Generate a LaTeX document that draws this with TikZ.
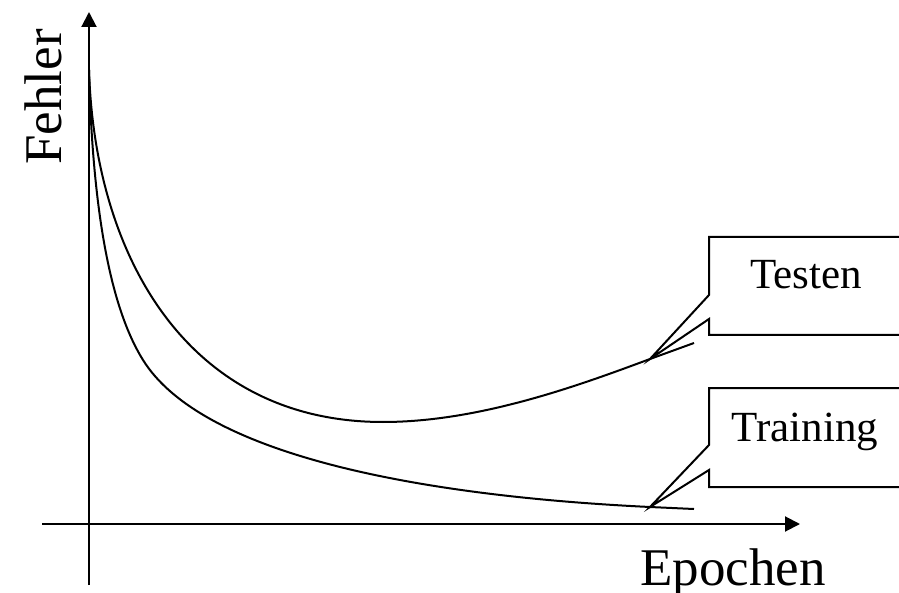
\documentclass[tikz,border=0pt]{standalone}
\usepackage{fontspec}
\setmainfont{Liberation Serif}
\usetikzlibrary{arrows.meta}
\begin{document}
\begin{tikzpicture}[x=1pt,y=-1pt,
  axis/.style={line width=2pt,-{Triangle[length=15pt,width=15pt]}},
  curve/.style={line width=2pt},
  callout/.style={line width=2pt,line join=miter},
  big/.style={inner sep=0pt,font=\fontsize{53}{60}\selectfont},
  lbl/.style={inner sep=0pt,font=\fontsize{43}{50}\selectfont}]
\useasboundingbox (0,0) rectangle (899,593);
\clip (0,0) rectangle (899,593);
% axes
\coordinate (ybot) at (89,585);
\coordinate (ytop) at (89,12);
\coordinate (xleft) at (42,524);
\coordinate (xright) at (800,524);
\draw[axis] (ybot) -- (ytop);
\draw[axis] (xleft) -- (xright);
\node[big,rotate=90,anchor=base] (fehler) at (61,97) {Fehler};
\node[big,anchor=base west] (epochen) at (640,585) {Epochen};
% curves
\coordinate (start) at (89,70);
\coordinate (tp) at (650,359);
\coordinate (rp) at (650,507);
\coordinate (tend) at (694,343);
\coordinate (rend) at (694,509);
\draw[curve] (start) .. controls (95,260) and (190,422) .. (383,422)
  .. controls (480,422) and (580,385) .. (tp) -- (tend);
\draw[curve] (start) .. controls (93,230) and (115,315) .. (143,360)
  .. controls (199,450) and (400,495) .. (rp) -- (rend);
% callouts
\draw[callout] (905,237) -- (709,237) -- (709,295) -- (tp) -- (709,319) -- (709,335) -- (905,335);
\draw[callout] (905,388) -- (709,388) -- (709,445) -- (rp) -- (709,470) -- (709,487) -- (905,487);
\node[lbl,anchor=base] (testen) at (806,289) {Testen};
\node[lbl,anchor=base] (training) at (805,441) {Training};
\end{tikzpicture}
\end{document}
